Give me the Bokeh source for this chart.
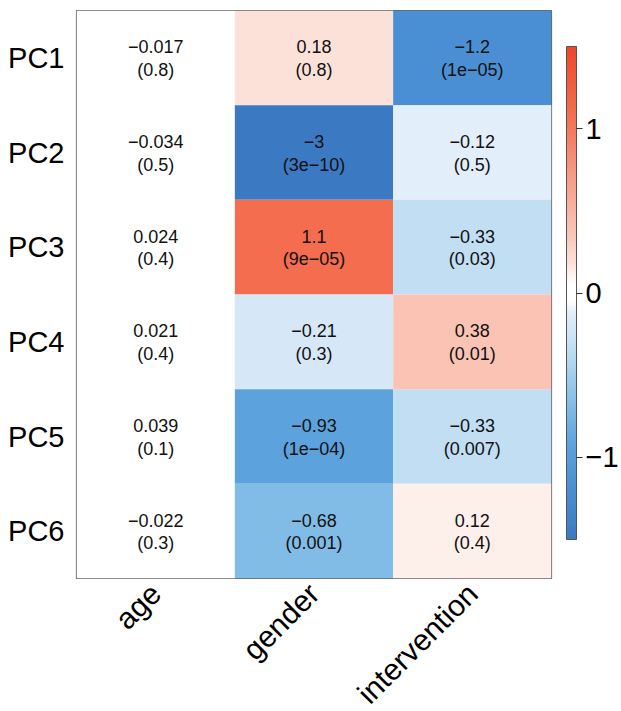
import math
import numpy as np
from bokeh.plotting import figure
from bokeh.models import (ColumnDataSource, LinearColorMapper, ColorBar, FixedTicker,
                          FactorRange)
from bokeh.transform import transform
from bokeh.core.properties import value
from bokeh.embed import file_html
from bokeh.resources import INLINE

# ---- data ----
covariates = ["age", "gender", "intervention"]
components = ["PC1", "PC2", "PC3", "PC4", "PC5", "PC6"]
age_coef = [-0.017, -0.034, 0.024, 0.021, 0.039, -0.022]
age_p = ["0.8", "0.5", "0.4", "0.4", "0.1", "0.3"]
gender_coef = [0.18, -3, 1.1, -0.21, -0.93, -0.68]
gender_p = ["0.8", "3e-10", "9e-05", "0.3", "1e-04", "0.001"]
intervention_coef = [-1.2, -0.12, -0.33, 0.38, -0.33, 0.12]
intervention_p = ["1e-05", "0.5", "0.03", "0.01", "0.007", "0.4"]
cbar_ticks = [-1, 0, 1]

# ---- palette (style) ----
stops = [(-1.5, "#3b7ac2"), (-1.2, "#4a8fd3"), (-0.93, "#5ca2dd"), (-0.68, "#82bde7"),
         (-0.33, "#c2dff3"), (-0.12, "#e3eef9"), (-0.05, "#ffffff"), (0.05, "#ffffff"),
         (0.12, "#fdf0eb"), (0.18, "#fce1d9"), (0.38, "#fac3b4"), (1.1, "#f46d4f"),
         (1.5, "#ef472b")]
sp = np.array([s[0] for s in stops])
rgb = np.array([[int(c[i:i + 2], 16) for i in (1, 3, 5)] for _, c in stops], dtype=float)
xs = np.linspace(-1.5, 1.5, 256)
palette = []
for xv in xs:
    r, g, b = (np.interp(xv, sp, rgb[:, k]) for k in range(3))
    palette.append("#%02x%02x%02x" % (int(round(r)), int(round(g)), int(round(b))))


def fmt(v):
    s = "%g" % v
    return s.replace("-", "\u2212")


xcol, ycol, vals, vtxt, ptxt = [], [], [], [], []
for cov, coefs, ps in [("age", age_coef, age_p), ("gender", gender_coef, gender_p),
                       ("intervention", intervention_coef, intervention_p)]:
    for comp, c, pv in zip(components, coefs, ps):
        xcol.append(cov)
        ycol.append(comp)
        vals.append(c)
        vtxt.append(fmt(c))
        ptxt.append("(" + pv.replace("-", "\u2212") + ")")

src = ColumnDataSource(dict(x=xcol, y=ycol, v=vals, vt=vtxt, pt=ptxt))

mapper = LinearColorMapper(palette=palette, low=-1.5, high=1.5,
                           low_color=palette[0], high_color=palette[-1])

p = figure(x_range=FactorRange(*covariates), y_range=FactorRange(*components[::-1]),
           frame_width=475, frame_height=568, width=610, height=700,
           output_backend="svg", toolbar_location=None,
           min_border_left=76, min_border_top=10, min_border_right=59, min_border_bottom=122)

p.rect(x="x", y="y", width=1, height=1, source=src,
       fill_color=transform("v", mapper), line_color=None)

font = value("Liberation Sans")
p.text(x="x", y="y", text="vt", source=src, y_offset=-11, text_align="center",
       text_baseline="middle", text_font=font, text_font_size="18px", text_color="#111111")
p.text(x="x", y="y", text="pt", source=src, y_offset=12, text_align="center",
       text_baseline="middle", text_font=font, text_font_size="18px", text_color="#111111")

p.outline_line_color = "#666666"
p.outline_line_width = 1.2
p.xgrid.grid_line_color = None
p.ygrid.grid_line_color = None
for ax in (p.xaxis, p.yaxis):
    ax.axis_line_color = None
    ax.major_tick_line_color = None
    ax.minor_tick_line_color = None
    ax.major_label_text_font = "Liberation Sans"
    ax.major_label_text_color = "#000000"
p.yaxis.major_label_text_font_size = "29px"
p.xaxis.major_label_text_font_size = "30px"
p.xaxis.major_label_orientation = math.pi / 4
p.xaxis.major_label_standoff = 4
p.yaxis.major_label_standoff = 6

cb = ColorBar(color_mapper=mapper, ticker=FixedTicker(ticks=cbar_ticks),
              major_label_overrides={t: fmt(t) for t in cbar_ticks},
              width=10, height=493, location=(15, 39), padding=0, margin=0,
              bar_line_color="#555555", bar_line_width=1,
              major_tick_out=6, major_tick_in=0, major_tick_line_color="#333333",
              minor_tick_line_color=None, label_standoff=3,
              major_label_text_font="Liberation Sans", major_label_text_font_size="29px",
              major_label_text_color="#000000", major_label_text_baseline="middle",
              background_fill_color=None, border_line_color=None)
p.add_layout(cb, "right")

open("out.html", "w").write(file_html(p, INLINE))
